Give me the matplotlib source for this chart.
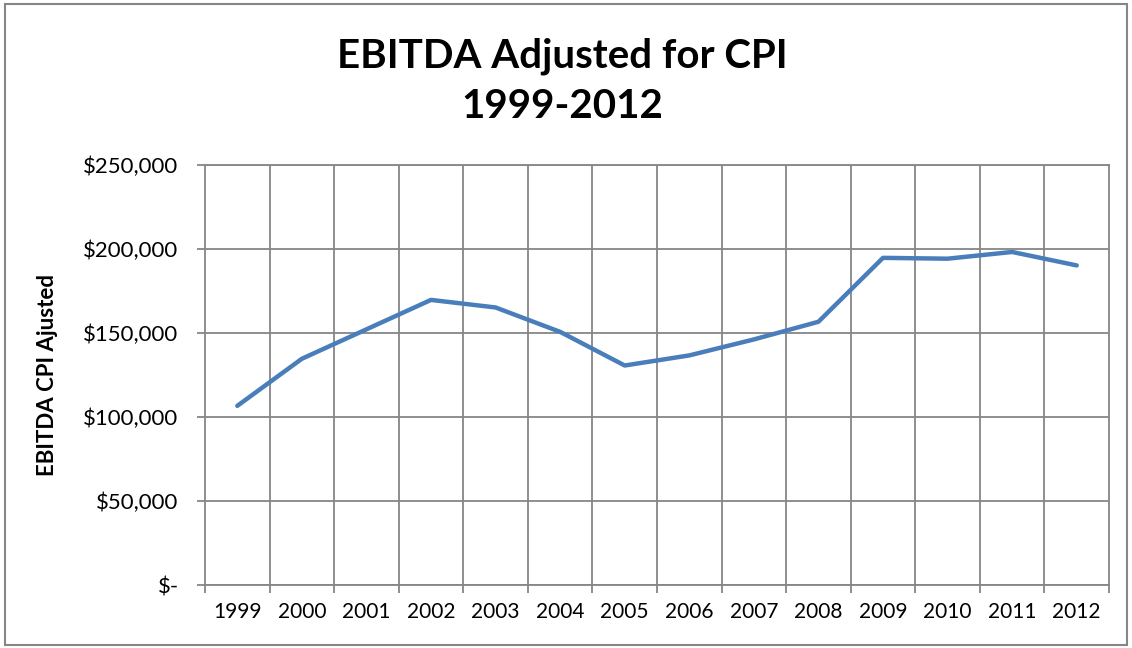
import matplotlib
matplotlib.use("Agg")
import matplotlib.pyplot as plt
from matplotlib.patches import Rectangle
from matplotlib.ticker import FuncFormatter, FixedLocator

plt.rcParams['font.family'] = ['Lato', 'DejaVu Sans']

# Datos
years = ["1999", "2000", "2001", "2002", "2003", "2004", "2005",
         "2006", "2007", "2008", "2009", "2010", "2011", "2012"]
ebitda_cpi = [106500, 134500, 152000, 169500, 165000, 150500, 130500,
              136500, 146000, 156500, 194500, 194000, 198000, 190000]
y_ticks = [0, 50000, 100000, 150000, 200000, 250000]

fig = plt.figure(figsize=(11.32, 6.48), dpi=100)
ax = fig.add_axes([205 / 1132, 1 - 585 / 648, 904 / 1132, 420.5 / 648])

grid_color = "#868686"
x = list(range(len(years)))
ax.plot(x, ebitda_cpi, color="#4A7EBB", linewidth=3.2, solid_capstyle="round",
        solid_joinstyle="round", zorder=3)

ax.set_xlim(-0.5, len(years) - 0.5)
ax.set_ylim(0, 250000)

# ticks de categorias en los limites
ax.set_xticks(x)
ax.set_xticklabels(years, fontsize=15)
ax.xaxis.set_minor_locator(FixedLocator([i - 0.5 for i in range(len(years) + 1)]))
ax.tick_params(axis="x", which="major", length=0, pad=12)
ax.tick_params(axis="x", which="minor", length=6, color=grid_color, width=1.3)
for b in [i - 0.5 for i in range(1, len(years))]:
    ax.axvline(b, color=grid_color, linewidth=1.3, zorder=1)

ax.set_yticks(y_ticks)
ax.yaxis.set_major_formatter(FuncFormatter(lambda v, p: "$-" if v == 0 else "${:,.0f}".format(v)))
ax.tick_params(axis="y", length=6, color=grid_color, width=1.3, labelsize=16, pad=13)
ax.grid(axis="y", color=grid_color, linewidth=1.3, zorder=1)

for s in ax.spines.values():
    s.set_color(grid_color)
    s.set_linewidth(1.3)

ax.set_ylabel("EBITDA CPI Ajusted", fontsize=16, fontweight="bold", labelpad=18)

fig.text(0.4965, 1 - 56 / 648, "EBITDA Adjusted for CPI", ha="center", va="center",
         fontsize=29, fontweight="bold")
fig.text(0.4965, 1 - 106 / 648, "1999-2012", ha="center", va="center",
         fontsize=29, fontweight="bold")

# borde del grafico
fig.patches.append(Rectangle((5 / 1132, 3 / 648), 1122 / 1132, 641 / 648, transform=fig.transFigure,
                             fill=False, edgecolor=grid_color, linewidth=1.5))

plt.savefig("out.png", dpi=100)
